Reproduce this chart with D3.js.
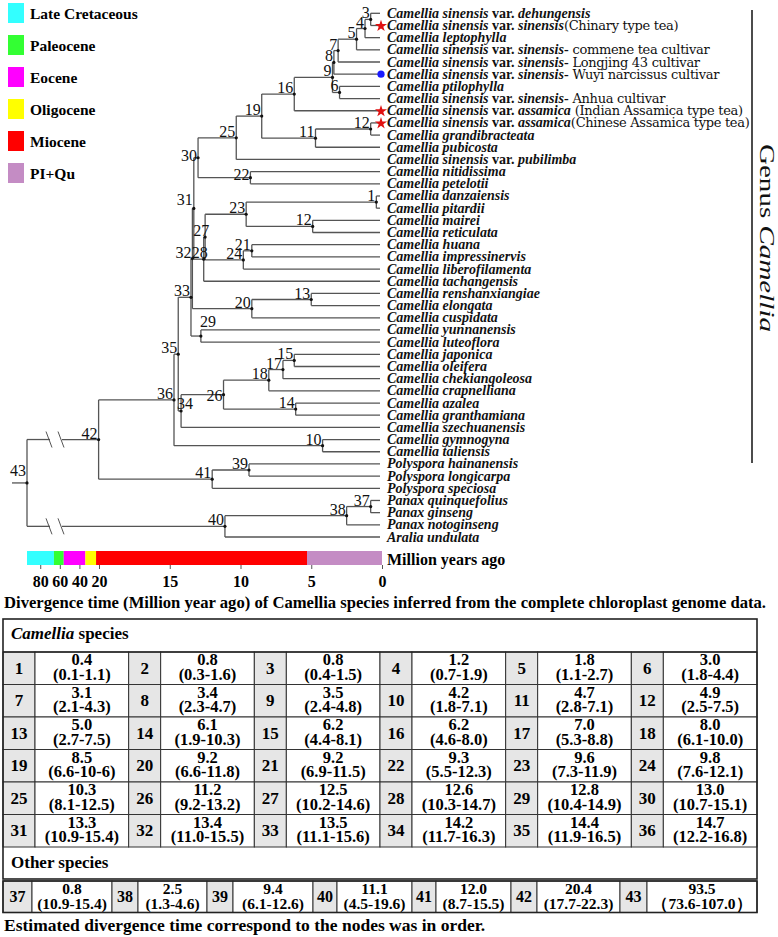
<!DOCTYPE html>
<html><head><meta charset="utf-8">
<script src="https://cdn.jsdelivr.net/npm/d3@7/dist/d3.min.js"></script>
<style>body{margin:0;background:#fff}svg{display:block}</style>
</head><body>
<svg id="c" width="778" height="937"></svg>
<script>
// ---------------- DATA ----------------
const leafNames = [
"*Camellia sinensis* var. *dehungensis*",
"*Camellia sinensis* var. *sinensis*",
"*Camellia leptophylla*",
"*Camellia sinensis* var. *sinensis*-",
"*Camellia sinensis* var. *sinensis*-",
"*Camellia sinensis* var. *sinensis*-",
"*Camellia ptilophylla*",
"*Camellia sinensis* var. *sinensis*-",
"*Camellia sinensis* var. *assamica*",
"*Camellia sinensis* var. *assamica*",
"*Camellia grandibracteata*",
"*Camellia pubicosta*",
"*Camellia sinensis* var. *pubilimba*",
"*Camellia nitidissima*",
"*Camellia petelotii*",
"*Camellia danzaiensis*",
"*Camellia pitardii*",
"*Camellia mairei*",
"*Camellia reticulata*",
"*Camellia huana*",
"*Camellia impressinervis*",
"*Camellia liberofilamenta*",
"*Camellia tachangensis*",
"*Camellia renshanxiangiae*",
"*Camellia elongata*",
"*Camellia cuspidata*",
"*Camellia yunnanensis*",
"*Camellia luteoflora*",
"*Camellia japonica*",
"*Camellia oleifera*",
"*Camellia chekiangoleosa*",
"*Camellia crapnelliana*",
"*Camellia azalea*",
"*Camellia granthamiana*",
"*Camellia szechuanensis*",
"*Camellia gymnogyna*",
"*Camellia taliensis*",
"*Polyspora hainanensis*",
"*Polyspora longicarpa*",
"*Polyspora speciosa*",
"*Panax quinquefolius*",
"*Panax ginseng*",
"*Panax notoginseng*",
"*Aralia undulata*"];
const leafNotes = ["","(Chinary type tea)",""," commene tea cultivar"," Longjing 43 cultivar"," Wuyi narcissus cultivar",""," Anhua cultivar"," (Indian Assamica type tea)","(Chinese Assamica type tea)"];
const starLeaves = [1, 8, 9];
const dotLeaves = [5];

// node ids 1..43 (index = id-1)
const nodeAges = [0.4,0.8,0.8,1.2,1.8,3.0,3.1,3.4,3.5,4.2,4.7,4.9,5.0,6.1,6.2,6.2,7.0,8.0,8.5,9.2,9.2,9.3,9.6,9.8,10.3,11.2,12.5,12.6,12.8,13.0,13.3,13.4,13.5,14.2,14.4,14.7,0.8,2.5,9.4,11.1,12.0,20.4,93.5];
const nodeRanges = ["0.1-1.1","0.3-1.6","0.4-1.5","0.7-1.9","1.1-2.7","1.8-4.4","2.1-4.3","2.3-4.7","2.4-4.8","1.8-7.1","2.8-7.1","2.5-7.5","2.7-7.5","1.9-10.3","4.4-8.1","4.6-8.0","5.3-8.8","6.1-10.0","6.6-10-6","6.6-11.8","6.9-11.5","5.5-12.3","7.3-11.9","7.6-12.1","8.1-12.5","9.2-13.2","10.2-14.6","10.3-14.7","10.4-14.9","10.7-15.1","10.9-15.4","11.0-15.5","11.1-15.6","11.7-16.3","11.9-16.5","12.2-16.8","10.9-15.4","1.3-4.6","6.1-12.6","4.5-19.6","8.7-15.5","17.7-22.3","73.6-107.0"];
const nodeChildren = ["L15 L16","L9 L10","L0 L1","N3 L2","N4 L3","L6 L7","N5 L4","N7 L5","N8 N6","L35 L36",
"N2 L11","L17 L18","L23 L24","L32 L33","L28 L29","N9 L8","N15 L30","N17 L31","N16 N11","N13 L25",
"L19 L20","L13 L14","N1 N12","N21 L21","N19 L12","N18 N14","N23 N24","N27 L22","L26 L27","N25 N22",
"N30 N28","N31 N20","N32 N29","N26 L34","N33 N34","N35 N10","L40 L41","N37 L42","L37 L38","N38 L43",
"N39 L39","N36 N41","N42 N40"];
const nodeTreeLabels = d3.range(1, 44).map(String);
nodeTreeLabels[1] = "12"; // node 2 printed as "12" in the figure
const camelliaNodes = d3.range(1, 37);
const otherNodes = d3.range(37, 44);

const epochNames = ["Late Cretaceous","Paleocene","Eocene","Oligocene","Miocene","PI+Qu"];
const epochStart = [93.5, 66, 56, 33.9, 23, 5.3];
const epochEnd = [66, 56, 33.9, 23, 5.3, 0];
const axisTicks = [80, 60, 40, 20, 15, 10, 5, 0];

// ---------------- STYLE ----------------
const epochColors = ["#33ffff","#33ff33","#ff00ff","#ffff00","#ff0000","#c48cc4"];
const SERIF = "'Liberation Serif','Times New Roman',serif";
const lineColor = "#555";

const svg = d3.select("#c");
const x = d3.scaleLinear().domain([93.5, 20, 0]).range([27, 99, 382]);
const y = d3.scaleLinear().domain([0, leafNames.length - 1]).range([13.3, 537]);

// ---------- legend ----------
const ly = d3.scalePoint().domain(epochNames).range([13, 173]);
const leg = svg.append("g");
leg.selectAll("rect").data(epochNames).join("rect")
  .attr("x", 8).attr("y", d => ly(d) - 10).attr("width", 16).attr("height", 20)
  .attr("fill", (d, i) => epochColors[i]);
leg.selectAll("text").data(epochNames).join("text")
  .attr("x", 30).attr("y", d => ly(d) + 6)
  .attr("font-family", SERIF).attr("font-weight", "bold").attr("font-size", 15.5)
  .text(d => d);

// ---------- tree layout ----------
const pos = {};
function place(id) {
  if (id[0] === "L") { const i = +id.slice(1); return { x: x(0), y: y(i), leaf: i }; }
  const k = +id.slice(1);
  const ch = nodeChildren[k - 1].split(" ").map(place);
  const p = { id: k, x: x(nodeAges[k - 1]), y: (ch[0].y + ch[ch.length - 1].y) / 2, ch };
  pos[k] = p; return p;
}
const root = place("N43");
const tree = svg.append("g").attr("stroke", lineColor).attr("stroke-width", 1.3).attr("fill", "none");
const gapA = 50, gapB = 62;
Object.values(pos).forEach(p => {
  tree.append("line").attr("x1", p.x).attr("x2", p.x).attr("y1", p.ch[0].y).attr("y2", p.ch[p.ch.length - 1].y);
  p.ch.forEach(c => {
    const xe = c.leaf !== undefined ? c.x - 2 : c.x;
    if (p.id === 43) {
      tree.append("line").attr("x1", p.x).attr("x2", gapA).attr("y1", c.y).attr("y2", c.y);
      tree.append("line").attr("x1", gapB).attr("x2", xe).attr("y1", c.y).attr("y2", c.y);
      [gapA - 2, gapB - 2].forEach(gx => tree.append("line")
        .attr("x1", gx - 2).attr("y1", c.y - 8).attr("x2", gx + 4).attr("y2", c.y + 8).attr("stroke-width", 1));
    } else {
      tree.append("line").attr("x1", p.x).attr("x2", xe).attr("y1", c.y).attr("y2", c.y);
    }
  });
});
// root stub
tree.append("line").attr("x1", 12).attr("x2", root.x).attr("y1", root.y).attr("y2", root.y);
// node dots
svg.append("g").selectAll("circle").data(Object.values(pos)).join("circle")
  .attr("cx", d => d.x).attr("cy", d => d.y).attr("r", 1.6).attr("fill", "#111");

// node labels
const labelAdj = {28:{a:"middle",dx:-3,dy:0},27:{a:"middle",dx:-3,dy:0},29:{a:"start",dx:0,dy:-8},
  34:{a:"start",dx:-3,dy:-1},26:{dy:7},22:{dy:3},30:{dy:4},43:{dy:-6},31:{dy:-2}};
svg.append("g").selectAll("text").data(Object.values(pos)).join("text")
  .attr("font-family", SERIF).attr("font-size", 16).attr("fill", "#111")
  .attr("text-anchor", d => (labelAdj[d.id] && labelAdj[d.id].a) || "end")
  .attr("x", d => d.x - 1 + ((labelAdj[d.id] && labelAdj[d.id].dx) || 0))
  .attr("y", d => d.y - 1 + ((labelAdj[d.id] && labelAdj[d.id].dy) || 0))
  .text(d => nodeTreeLabels[d.id - 1]);

// leaf labels
const lt = svg.append("g").attr("font-family", SERIF).attr("font-size", 14).attr("fill", "#111");
leafNames.forEach((nm, i) => {
  const t = lt.append("text").attr("x", 387).attr("y", y(i) + 4.5);
  nm.split(/(\*[^*]+\*)/).filter(s => s.length).forEach(seg => {
    if (seg[0] === "*") t.append("tspan").attr("font-style", "italic").attr("font-weight", "bold").text(seg.slice(1, -1));
    else t.append("tspan").attr("font-weight", "bold").text(seg);
  });
  if (leafNotes[i]) t.append("tspan").attr("font-family", "'DejaVu Serif',serif").attr("font-size", 13).attr("letter-spacing", -0.3).text(leafNotes[i]);
});
svg.append("g").selectAll("path").data(starLeaves).join("path")
  .attr("d", d3.symbol(d3.symbolStar, 45)).attr("fill", "#e01010")
  .attr("transform", i => `translate(381,${y(i) + 0.5})`);
svg.append("g").selectAll("circle").data(dotLeaves).join("circle")
  .attr("cx", 381).attr("cy", i => y(i)).attr("r", 3.6).attr("fill", "#1a1aff");

// genus bracket
svg.append("line").attr("x1", 752).attr("x2", 752).attr("y1", 10).attr("y2", 463).attr("stroke", "#111").attr("stroke-width", 1.5);
const gt = svg.append("text").attr("transform", "translate(760,238) rotate(90)")
  .attr("text-anchor", "middle").attr("font-family", SERIF).attr("font-size", 21).attr("fill", "#111")
  .attr("textLength", 188).attr("lengthAdjust", "spacingAndGlyphs");
gt.append("tspan").text("Genus ");
gt.append("tspan").attr("font-style", "italic").text("Camellia");

// ---------- time bar + axis ----------
const bar = svg.append("g");
bar.selectAll("rect").data(epochNames).join("rect")
  .attr("x", (d, i) => x(epochStart[i])).attr("width", (d, i) => x(epochEnd[i]) - x(epochStart[i]))
  .attr("y", 551).attr("height", 14).attr("fill", (d, i) => epochColors[i]);
const ax = svg.append("g").attr("transform", "translate(0,565)")
  .call(d3.axisBottom(x).tickValues(axisTicks).tickSize(4).tickPadding(7).tickFormat(d3.format("d")));
ax.select(".domain").remove();
ax.selectAll("line").attr("stroke", "#555");
ax.selectAll("text").attr("font-family", SERIF).attr("font-weight", "bold").attr("font-size", 16).attr("fill", "#000");
svg.append("text").attr("x", 387).attr("y", 565).attr("font-family", SERIF).attr("font-weight", "bold")
  .attr("font-size", 16).text("Million years ago");

svg.append("text").attr("x", 4).attr("y", 608).attr("font-family", SERIF).attr("font-weight", "bold")
  .attr("font-size", 16).attr("textLength", 762).attr("lengthAdjust", "spacingAndGlyphs")
  .text("Divergence time (Million year ago) of Camellia species inferred from the complete chloroplast genome data.");

// ---------- table ----------
const T = svg.append("g").attr("font-family", SERIF).attr("font-weight", "bold").attr("fill", "#000");
const X0 = 3, X1 = 757, TOP = 619, HEAD = 33, RH = 32.5;
const pairW = (X1 - X0) / 6, numW = 32;
const rowsTop = TOP + HEAD;
function cell(xa, ya, w, h, fill) {
  T.append("rect").attr("x", xa).attr("y", ya).attr("width", w).attr("height", h)
    .attr("fill", fill).attr("stroke", "#333").attr("stroke-width", 1);
}
function valueText(cx, ya, node, small) {
  const txt = T.append("text").attr("text-anchor", "middle").attr("font-size", small ? 15.5 : 16.5);
  txt.append("tspan").attr("x", cx).attr("y", ya + 13).text(nodeAges[node - 1].toFixed(1));
  const r = node === 43 ? "（" + nodeRanges[node - 1] + "）" : "(" + nodeRanges[node - 1] + ")";
  txt.append("tspan").attr("x", cx).attr("y", ya + 27.5).text(r);
}
camelliaNodes.forEach((n, k) => {
  const r = Math.floor(k / 6), c = k % 6;
  const xa = X0 + c * pairW, ya = rowsTop + r * RH;
  cell(xa, ya, numW, RH, "#e6e6e6");
  cell(xa + numW, ya, pairW - numW, RH, "#fff");
  T.append("text").attr("x", xa + numW / 2).attr("y", ya + 21.5).attr("text-anchor", "middle").attr("font-size", 17).text(n);
  valueText(xa + numW + (pairW - numW) / 2, ya, n, false);
});
const otherTop = rowsTop + 6 * RH;
// main box border
T.append("rect").attr("x", X0).attr("y", TOP).attr("width", X1 - X0).attr("height", otherTop + 32 - TOP)
  .attr("fill", "none").attr("stroke", "#222").attr("stroke-width", 1.6);
T.append("line").attr("x1", X0).attr("x2", X1).attr("y1", rowsTop).attr("y2", rowsTop).attr("stroke", "#222").attr("stroke-width", 1.3);
const h1 = T.append("text").attr("x", 11).attr("y", TOP + 20).attr("font-size", 17);
h1.append("tspan").attr("font-style", "italic").text("Camellia");
h1.append("tspan").text(" species");
T.append("text").attr("x", 11).attr("y", otherTop + 21).attr("font-size", 17).text("Other species");

const oTop = otherTop + 34, oH = 31.5;
const oNumW = [29, 26, 26, 24, 24, 26, 27];
const oValW = [80, 69, 80, 75, 75, 83, 110];
let ox = X0;
otherNodes.forEach((n, k) => {
  cell(ox, oTop, oNumW[k], oH, "#e6e6e6");
  T.append("text").attr("x", ox + oNumW[k] / 2).attr("y", oTop + 21).attr("text-anchor", "middle").attr("font-size", 16).text(n);
  ox += oNumW[k];
  cell(ox, oTop, oValW[k], oH, "#fff");
  valueText(ox + oValW[k] / 2, oTop, n, true);
  ox += oValW[k];
});
T.append("rect").attr("x", X0).attr("y", oTop).attr("width", X1 - X0).attr("height", oH)
  .attr("fill", "none").attr("stroke", "#222").attr("stroke-width", 1.6);

svg.append("text").attr("x", 4).attr("y", 931).attr("font-family", SERIF).attr("font-weight", "bold")
  .attr("font-size", 17.5).text("Estimated divergence time correspond to the nodes was in order.");
</script>
</body></html>
